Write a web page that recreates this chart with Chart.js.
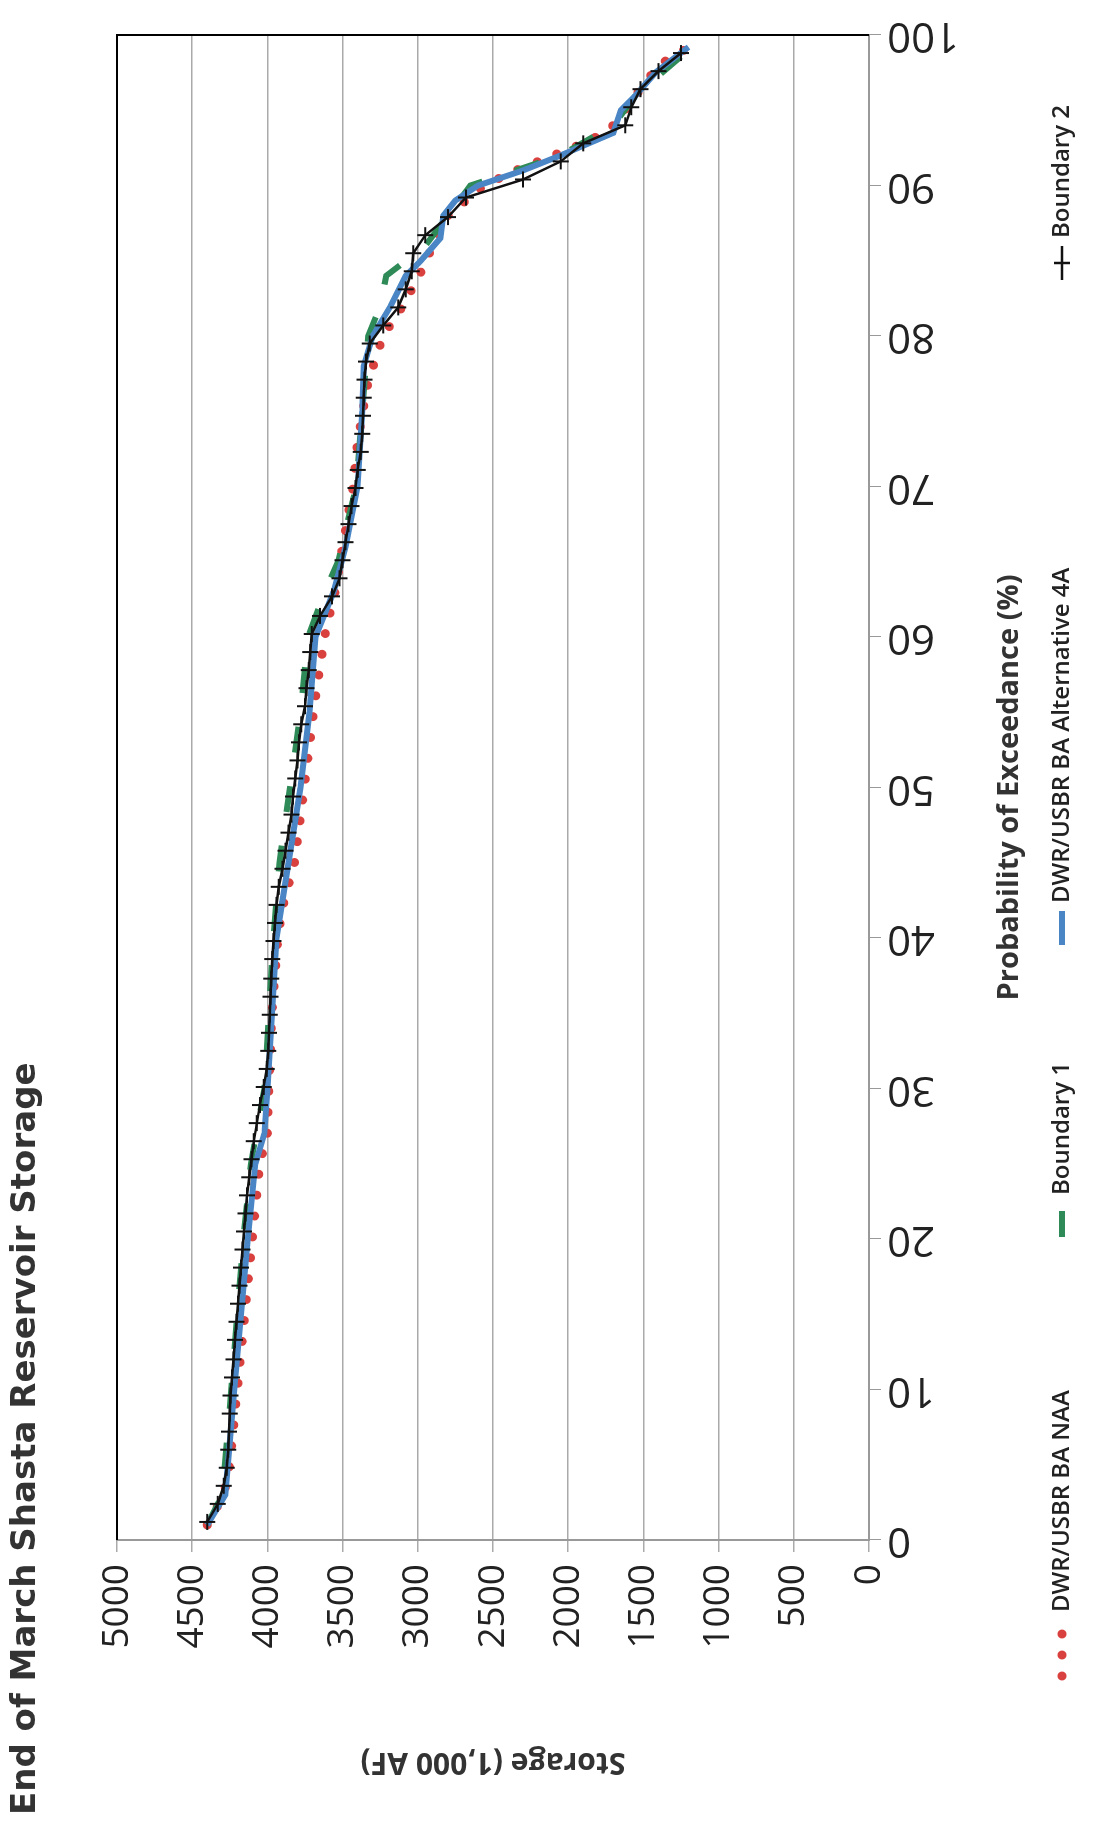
<!DOCTYPE html>
<html>
<head>
<meta charset="utf-8">
<script src="https://cdn.jsdelivr.net/npm/chart.js@4/dist/chart.umd.min.js"></script>
<style>
  html, body { margin: 0; padding: 0; background: #fff; overflow: hidden; }
  #wrap {
    position: absolute; left: 0; top: 0;
    width: 1839px; height: 1097px;
    transform-origin: 0 0;
    transform: translateY(1839px) rotate(-90deg);
  }
</style>
</head>
<body>
<div id="wrap"><canvas id="chart" width="1839" height="1097"></canvas></div>
<script>
// probability of exceedance (%) and storage (1,000 AF)
const naaProb = [1, 3, 5, 10, 15, 20, 25, 27, 30, 35, 40, 42, 45, 48, 52, 56, 60, 63, 66, 70, 73, 77, 80, 82, 84, 86, 88, 90, 91, 92, 93, 94, 96, 98, 99];
const naaStorage = [4400, 4290, 4250, 4200, 4150, 4100, 4050, 4000, 3990, 3970, 3930, 3900, 3820, 3780, 3730, 3680, 3620, 3550, 3500, 3430, 3400, 3330, 3230, 3100, 2990, 2900, 2800, 2560, 2350, 2100, 1850, 1700, 1550, 1400, 1230];

const b1Prob = [1, 3, 10, 20, 25, 30, 40, 45, 50, 55, 60, 63, 65, 70, 75, 80, 82, 84, 86, 88, 90, 92, 94, 96, 99];
const b1Storage = [4400, 4300, 4240, 4160, 4110, 4020, 3960, 3920, 3850, 3780, 3730, 3620, 3530, 3410, 3370, 3330, 3250, 3210, 2950, 2800, 2650, 2050, 1700, 1550, 1200];

const altProb = [1, 3, 10, 20, 25, 27, 30, 40, 45, 50, 55, 60, 63, 66, 70, 75, 78, 80, 82, 84, 85, 86.5, 88, 89, 90, 91, 92, 93.5, 95, 96, 97.5, 99.2];
const altStorage = [4400, 4280, 4220, 4130, 4080, 4020, 4000, 3940, 3860, 3780, 3720, 3680, 3560, 3480, 3400, 3370, 3360, 3300, 3180, 3080, 2980, 2850, 2830, 2750, 2600, 2300, 2050, 1700, 1650, 1550, 1420, 1200];

const b2Prob = [1.2, 2.4, 3.6, 4.8, 6.0, 7.2, 8.4, 9.6, 10.8, 12.0, 13.3, 14.5, 15.7, 16.9, 18.1, 19.3, 20.5, 21.7, 22.9, 24.1,
  25.3, 26.5, 27.7, 28.9, 30.1, 31.3, 32.5, 33.7, 34.9, 36.1, 37.3, 38.6, 39.8, 41.0, 42.2, 43.4, 44.6, 45.8, 47.0, 48.2,
  49.4, 50.6, 51.8, 53.0, 54.2, 55.4, 56.6, 57.8, 59.0, 60.2, 61.4, 62.7, 63.9, 65.1, 66.3, 67.5, 68.7, 69.9, 71.1, 72.3,
  73.5, 74.7, 75.9, 77.1, 78.3, 79.5, 80.7, 81.9, 83.1, 84.3, 85.5, 86.7, 87.9, 89.2, 90.4, 91.6, 92.8, 94.0, 95.2, 96.4,
  97.6, 98.8];
const b2Storage = [4400, 4330, 4290, 4270, 4260, 4255, 4250, 4245, 4235, 4225, 4215, 4205, 4195, 4185, 4175, 4165, 4155, 4145, 4135, 4120,
  4105, 4090, 4070, 4050, 4025, 4005, 3995, 3990, 3985, 3980, 3975, 3968, 3960, 3950, 3940, 3925, 3900, 3880, 3860, 3840,
  3830, 3815, 3800, 3790, 3775, 3750, 3740, 3725, 3715, 3705, 3650, 3570, 3520, 3500, 3480, 3460, 3440, 3415, 3400, 3380,
  3370, 3365, 3360, 3355, 3345, 3320, 3230, 3130, 3080, 3040, 3030, 2950, 2800, 2680, 2300, 2050, 1900, 1620, 1580, 1520,
  1400, 1250];

const seriesNames = ["DWR/USBR BA NAA", "Boundary 1", "DWR/USBR BA Alternative 4A", "Boundary 2"];
const xTickLabels = [0, 10, 20, 30, 40, 50, 60, 70, 80, 90, 100];
const chartTitle = "End of March Shasta Reservoir Storage";
const xTitle = "Probability of Exceedance (%)";
const yTitle = "Storage (1,000 AF)";

const pts = (xs, ys) => xs.map((x, i) => ({ x: x, y: ys[i] }));

const legendX = [159, 602, 894, 1559];

const extras = {
  id: "extras",
  afterDraw(chart) {
    const ctx = chart.ctx;
    const a = chart.chartArea;
    const xs = chart.scales.x;
    ctx.save();
    // black frame on top and right
    ctx.strokeStyle = "#000";
    ctx.lineWidth = 2;
    ctx.beginPath();
    ctx.moveTo(a.left, a.top);
    ctx.lineTo(a.right, a.top);
    ctx.lineTo(a.right, a.bottom);
    ctx.stroke();

    // title
    ctx.fillStyle = "#333";
    ctx.font = "bold 34px 'DejaVu Sans'";
    ctx.textAlign = "left";
    ctx.textBaseline = "middle";
    ctx.fillText(chartTitle, 24, 26);

    // x tick labels, rotated
    ctx.font = "42px 'Open Sans'";
    ctx.fillStyle = "#222";
    xTickLabels.forEach(v => {
      ctx.save();
      ctx.translate(xs.getPixelForValue(v), a.bottom + 18);
      ctx.rotate(-Math.PI / 2);
      ctx.textAlign = "right";
      ctx.textBaseline = "middle";
      ctx.fillText(String(v), 0, 0);
      ctx.restore();
    });

    // y title, rotated
    ctx.save();
    ctx.translate(77, (a.top + a.bottom) / 2);
    ctx.rotate(-Math.PI / 2);
    ctx.font = "bold 30px 'Open Sans'";
    ctx.fillStyle = "#333";
    ctx.textAlign = "center";
    ctx.textBaseline = "middle";
    ctx.fillText(yTitle, 0, 0);
    ctx.restore();

    // legend
    const ly = 1062;
    ctx.font = "600 24px 'Open Sans'";
    ctx.textAlign = "left";
    ctx.textBaseline = "middle";
    chart.data.datasets.forEach((ds, i) => {
      const x0 = legendX[i];
      ctx.save();
      ctx.strokeStyle = ds.borderColor;
      ctx.lineWidth = ds.borderWidth;
      ctx.lineCap = ds.borderCapStyle || "butt";
      ctx.setLineDash(ds.borderDash || []);
      const w = i === 0 ? 60 : 34;
      ctx.beginPath();
      ctx.moveTo(x0 + (i === 0 ? 4 : 0), ly);
      ctx.lineTo(x0 + w, ly);
      ctx.stroke();
      if (i === 3) {
        ctx.setLineDash([]);
        ctx.beginPath();
        ctx.moveTo(x0 + w / 2, ly - 8);
        ctx.lineTo(x0 + w / 2, ly + 8);
        ctx.stroke();
      }
      ctx.restore();
      ctx.fillStyle = "#222";
      ctx.fillText(ds.label, x0 + w + 8, ly);
    });
    ctx.restore();
  }
};

new Chart(document.getElementById("chart"), {
  type: "scatter",
  data: {
    datasets: [
      {
        label: seriesNames[0], data: pts(naaProb, naaStorage), showLine: true,
        borderColor: "#d9413f", borderWidth: 9, borderDash: [0, 21], borderCapStyle: "round",
        pointRadius: 0, order: 4
      },
      {
        label: seriesNames[1], data: pts(b1Prob, b1Storage), showLine: true,
        borderColor: "#2e8b57", borderWidth: 6, borderDash: [26, 34],
        pointRadius: 0, order: 3
      },
      {
        label: seriesNames[2], data: pts(altProb, altStorage), showLine: true,
        borderColor: "#4a86c5", borderWidth: 6,
        pointRadius: 0, order: 2
      },
      {
        label: seriesNames[3], data: pts(b2Prob, b2Storage), showLine: true,
        borderColor: "#111", borderWidth: 2.5,
        pointStyle: "cross", pointRadius: 8, pointBorderWidth: 2, pointBorderColor: "#111",
        order: 1
      }
    ]
  },
  options: {
    responsive: false,
    animation: false,
    layout: { padding: { left: 150, right: 35, top: 117, bottom: 66 } },
    plugins: { legend: { display: false }, title: { display: false }, tooltip: { enabled: false } },
    scales: {
      x: {
        type: "linear", min: 0, max: 100,
        ticks: { display: false, stepSize: 10 },
        grid: { drawOnChartArea: false, tickLength: 12, color: "#999" },
        border: { color: "#999", width: 2 },
        title: { display: true, text: xTitle, color: "#333", font: { family: "Open Sans", size: 29, weight: "bold" } },
        afterFit(s) { s.height = 162; }
      },
      y: {
        min: 0, max: 5000,
        ticks: { stepSize: 500, color: "#222", padding: 12, font: { family: "Open Sans", size: 37 }, callback: v => String(v) },
        grid: { color: "#aaa", lineWidth: 1.5, tickLength: 12 },
        border: { color: "#999", width: 2 },
        afterFit(s) { s.width = 149; }
      }
    }
  },
  plugins: [extras]
});
</script>
</body>
</html>
